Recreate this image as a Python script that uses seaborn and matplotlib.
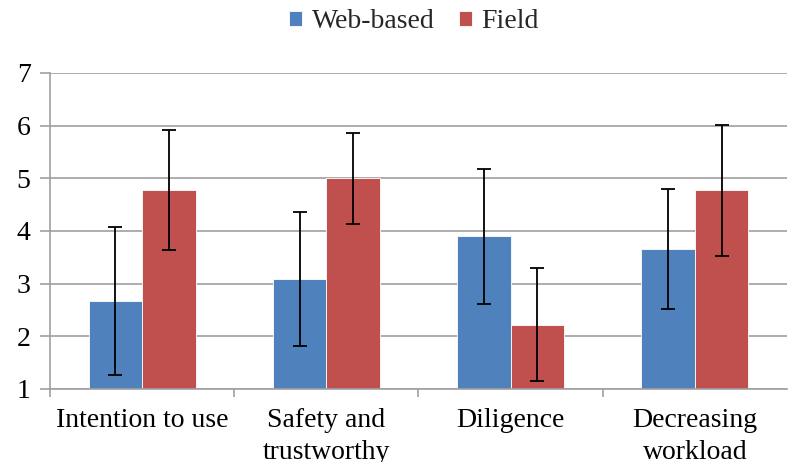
import matplotlib
matplotlib.use("Agg")
import matplotlib.pyplot as plt
import seaborn as sns
import pandas as pd
import numpy as np

categories = ["Intention to use", "Safety and\ntrustworthy", "Diligence", "Decreasing\nworkload"]
series = ["Web-based", "Field"]
web_means = [2.67, 3.09, 3.90, 3.66]
web_err = [1.41, 1.28, 1.28, 1.14]
field_means = [4.77, 5.00, 2.22, 4.77]
field_err = [1.14, 0.87, 1.07, 1.24]
yticks = [1, 2, 3, 4, 5, 6, 7]

colors = ["#4F81BD", "#C0504D"]

df = pd.DataFrame({
    "category": categories * 2,
    "series": [series[0]] * 4 + [series[1]] * 4,
    "value": web_means + field_means,
    "err": web_err + field_err,
})

sns.set_theme(style="white")
plt.rcParams["font.family"] = ["Liberation Serif", "DejaVu Serif"]

fig = plt.figure(figsize=(7.89, 4.62), dpi=100)
ax = fig.add_axes([50 / 789, 1 - 389 / 462, 737 / 789, 316 / 462])

sns.barplot(data=df, x="category", y="value", hue="series", order=categories,
            hue_order=series, palette=colors, width=0.58, gap=0, errorbar=None,
            saturation=1, edgecolor="white", linewidth=0.6, ax=ax, legend=True)

# error bars from the bar patches
for i, s in enumerate(series):
    cont = ax.containers[i]
    sub = df[df["series"] == s].set_index("category").loc[categories]
    xs = [p.get_x() + p.get_width() / 2 for p in cont.patches]
    ax.errorbar(xs, sub["value"].values, yerr=sub["err"].values, fmt="none",
                ecolor="black", elinewidth=1.3, capsize=5, capthick=1.3, zorder=5)

ax.set_ylim(1, 7)
ax.set_xlim(-0.5, 3.5)
ax.set_yticks(yticks)
ax.set_yticklabels([str(t) for t in yticks], fontsize=20)
ax.set_xticks(range(len(categories)))
ax.set_xticklabels(categories, fontsize=20, linespacing=1.35)
ax.set_xlabel("")
ax.set_ylabel("")
ax.set_axisbelow(True)
ax.yaxis.grid(True, color="#A0A0A0", linewidth=1.2)
ax.xaxis.grid(False)

for side in ["top", "right"]:
    ax.spines[side].set_visible(False)
for side in ["left", "bottom"]:
    ax.spines[side].set_color("#A0A0A0")
    ax.spines[side].set_linewidth(1.2)

ax.tick_params(axis="y", which="major", left=True, length=7, width=1.2, color="#A0A0A0",
               direction="out", pad=7, labelcolor="black")
ax.tick_params(axis="x", which="major", bottom=False, length=0, pad=14, labelcolor="black")
ax.set_xticks([-0.5, 0.5, 1.5, 2.5], minor=True)
ax.tick_params(axis="x", which="minor", bottom=True, length=6, width=1.2, color="#A0A0A0",
               direction="out")

leg = ax.legend(loc="center", bbox_to_anchor=(0.525, 1 - 22 / 462), bbox_transform=fig.transFigure,
                ncol=2, frameon=False, fontsize=20, handlelength=0.45, handleheight=0.45,
                handletextpad=0.35, columnspacing=0.9)

fig.savefig("out.png", dpi=100)
